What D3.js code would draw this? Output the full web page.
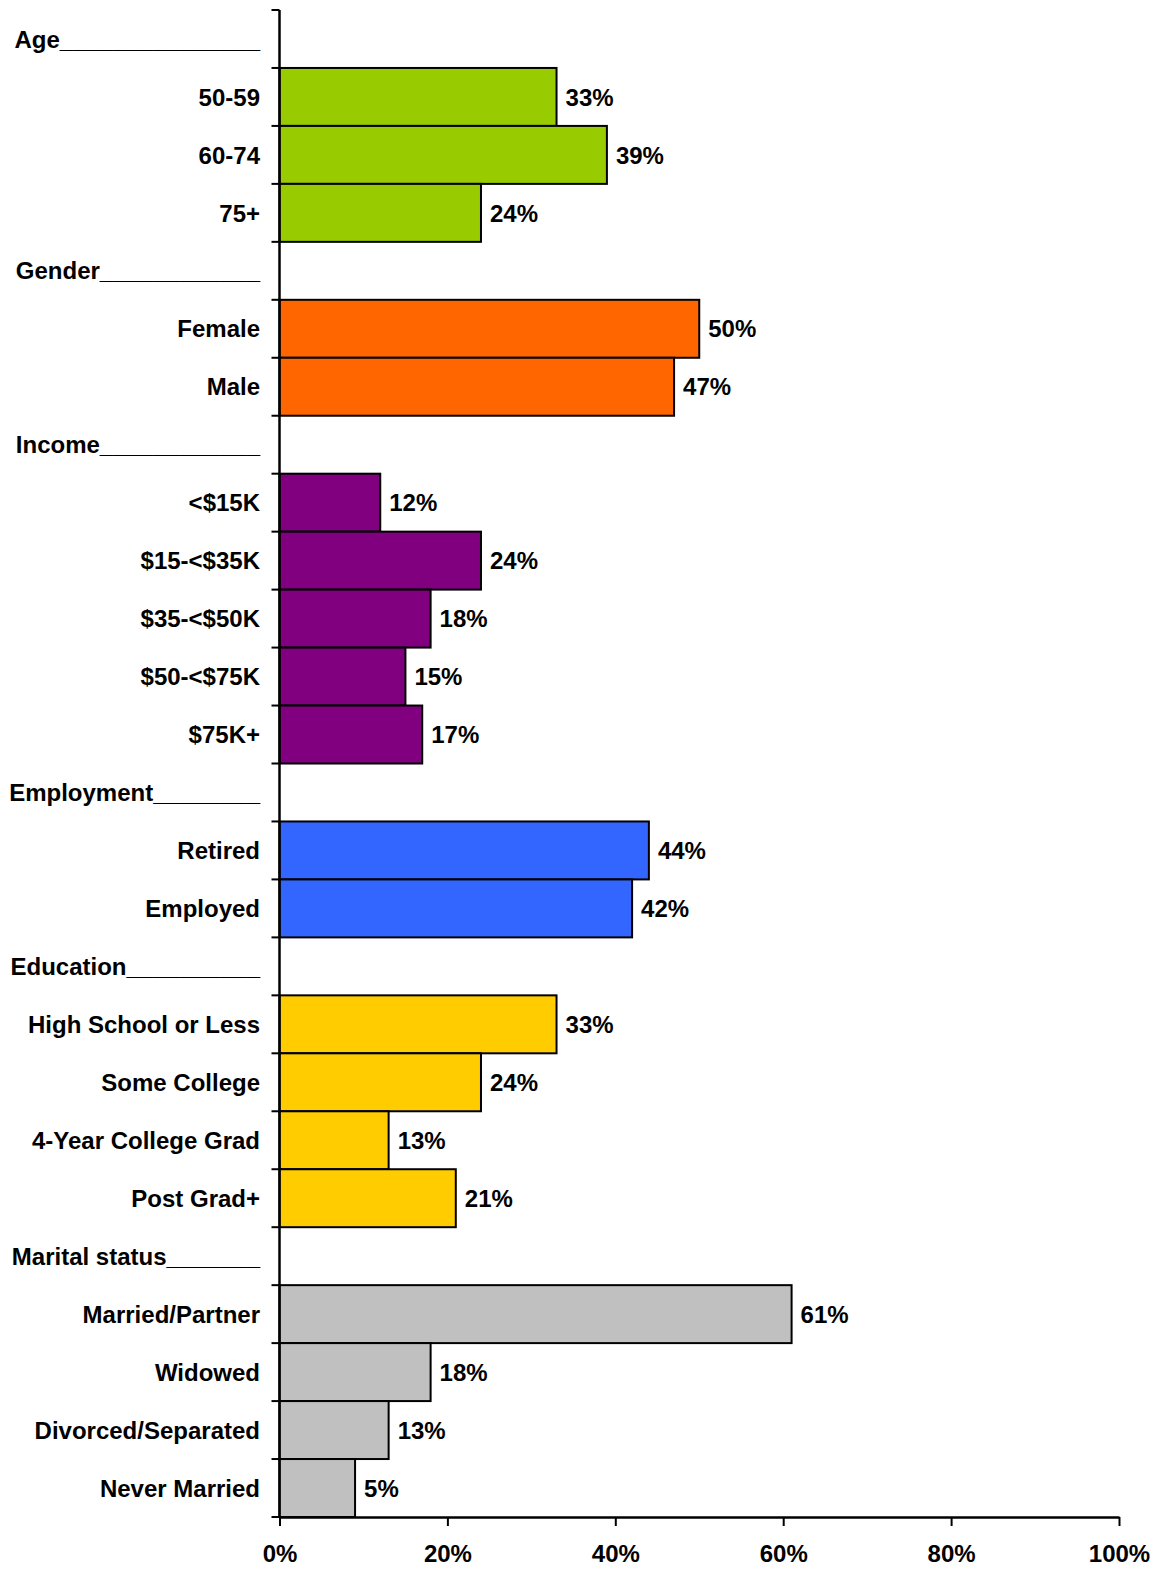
<!DOCTYPE html>
<html>
<head>
<meta charset="utf-8">
<script src="https://cdn.jsdelivr.net/npm/d3@7"></script>
<style>
  html, body { margin: 0; padding: 0; background: #fff; }
  svg text { font-family: "Liberation Sans", Arial, sans-serif; font-weight: bold; font-size: 24px; fill: #000; }
</style>
</head>
<body>
<svg id="chart" width="1155" height="1569"></svg>
<script>
// Row labels (headers are group titles, with no bar)
const rowLabels = [
  "Age_______________",
  "50-59", "60-74", "75+",
  "Gender____________",
  "Female", "Male",
  "Income____________",
  "<$15K", "$15-<$35K", "$35-<$50K", "$50-<$75K", "$75K+",
  "Employment________",
  "Retired", "Employed",
  "Education__________",
  "High School or Less", "Some College", "4-Year College Grad", "Post Grad+",
  "Marital status_______",
  "Married/Partner", "Widowed", "Divorced/Separated", "Never Married"
];
// Which rows are group headers
const headerRows = ["Age_______________", "Gender____________", "Income____________",
  "Employment________", "Education__________", "Marital status_______"];
// Bar values (percent), null for headers
const values = [
  null, 33, 39, 24,
  null, 50, 47,
  null, 12, 24, 18, 15, 17,
  null, 44, 42,
  null, 33, 24, 13, 21,
  null, 61, 18, 13, 9
];
// Value label texts as printed in the chart
const valueLabels = [
  null, "33%", "39%", "24%",
  null, "50%", "47%",
  null, "12%", "24%", "18%", "15%", "17%",
  null, "44%", "42%",
  null, "33%", "24%", "13%", "21%",
  null, "61%", "18%", "13%", "5%"
];
// Group of each row (for colour)
const groups = [
  "Age", "Age", "Age", "Age",
  "Gender", "Gender", "Gender",
  "Income", "Income", "Income", "Income", "Income", "Income",
  "Employment", "Employment", "Employment",
  "Education", "Education", "Education", "Education", "Education",
  "Marital", "Marital", "Marital", "Marital", "Marital"
];
const groupNames = ["Age", "Gender", "Income", "Employment", "Education", "Marital"];
const groupColors = ["#99CC00", "#FF6600", "#800080", "#3366FF", "#FFCC00", "#C0C0C0"];
const xTicks = [0, 20, 40, 60, 80, 100];

const rows = rowLabels.map((label, i) => ({
  key: i, label, value: values[i], text: valueLabels[i], group: groups[i],
  header: headerRows.includes(label)
}));

const svg = d3.select("#chart");
const margin = { left: 279.5, right: 36, top: 10, bottom: 52 };
const W = 1155, H = 1569;

const x = d3.scaleLinear().domain([0, 100]).range([margin.left, W - margin.right]);
const y = d3.scaleBand().domain(rows.map(d => d.key)).range([margin.top, H - margin.bottom]).padding(0);
const color = d3.scaleOrdinal().domain(groupNames).range(groupColors);

// Bars
const barRows = rows.filter(d => d.value != null);
svg.append("g").selectAll("rect").data(barRows).join("rect")
  .attr("x", x(0))
  .attr("y", d => y(d.key))
  .attr("width", d => x(d.value) - x(0))
  .attr("height", y.bandwidth())
  .attr("fill", d => color(d.group))
  .attr("stroke", "#000")
  .attr("stroke-width", 2);

// Value labels
svg.append("g").selectAll("text").data(barRows).join("text")
  .attr("x", d => x(d.value) + 9)
  .attr("y", d => y(d.key) + y.bandwidth() / 2)
  .attr("dy", "0.36em")
  .text(d => d.text);

// Y axis ticks at band boundaries
const yAxisG = svg.append("g");
const boundaries = d3.range(rows.length + 1).map(i => margin.top + i * y.step());
yAxisG.selectAll("line.tick").data(boundaries).join("line")
  .attr("x1", x(0) - 8).attr("x2", x(0))
  .attr("y1", d => d).attr("y2", d => d)
  .attr("stroke", "#000").attr("stroke-width", 2);

// Row labels
svg.append("g").selectAll("text").data(rows).join("text")
  .attr("x", 260)
  .attr("y", d => y(d.key) + y.bandwidth() / 2)
  .attr("dy", "0.36em")
  .attr("text-anchor", "end")
  .text(d => d.label);

// X axis
const xAxis = d3.axisBottom(x).tickValues(xTicks).tickFormat(d => d + "%").tickSize(9).tickSizeOuter(0);
const xg = svg.append("g").attr("transform", `translate(0,${H - margin.bottom})`).call(xAxis);
xg.select(".domain").attr("stroke", "#000").attr("stroke-width", 2.5);
xg.selectAll(".tick line").attr("stroke", "#000").attr("stroke-width", 2);
xg.selectAll(".tick text")
  .attr("y", 36)
  .attr("dy", "0.36em")
  .style("font-family", "'Liberation Sans', Arial, sans-serif")
  .style("font-weight", "bold")
  .style("font-size", "24px")
  .attr("fill", "#000");

// Y axis main line (drawn last so it sits over bar edges)
svg.append("line")
  .attr("x1", x(0)).attr("x2", x(0))
  .attr("y1", margin.top).attr("y2", H - margin.bottom)
  .attr("stroke", "#000").attr("stroke-width", 2.5);
</script>
</body>
</html>
